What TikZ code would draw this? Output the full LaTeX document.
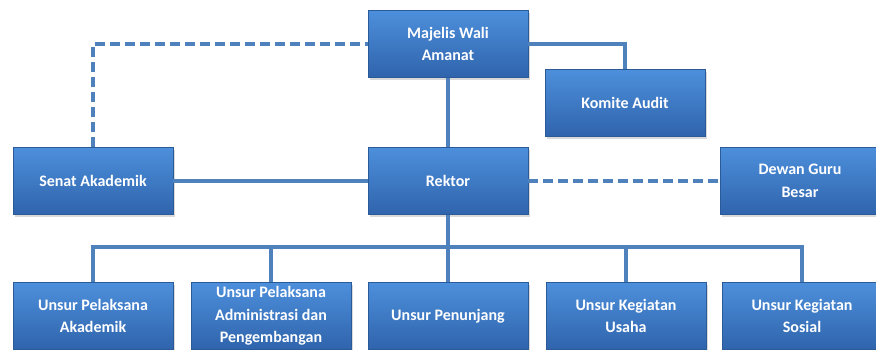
\documentclass[tikz,border=0pt]{standalone}
\usepackage{fontspec}
\setmainfont{Carlito}
\usetikzlibrary{shadows}
\definecolor{boxtop}{HTML}{4D8FDB}
\definecolor{boxbot}{HTML}{2F64AC}
\definecolor{boxline}{HTML}{2A5A98}
\definecolor{linkblue}{HTML}{4F81BD}

\begin{document}
\begin{tikzpicture}[x=1pt,y=-1pt,
  unit/.style={draw=boxline, top color=boxtop, bottom color=boxbot,
    minimum width=160pt, minimum height=67pt, text=white, align=center,
    font=\fontsize{16}{22.5}\selectfont\bfseries,
    drop shadow={opacity=0.3,shadow xshift=2pt,shadow yshift=-2pt}},
  link/.style={linkblue, line width=4pt},
  advice/.style={link, dash pattern=on 10pt off 5pt}]
  \useasboundingbox (0,0) rectangle (876,349);
  \coordinate (bus) at (448,247);
  \path (448,44) coordinate (c-mwa) (625,103) coordinate (c-kom)
        (93,181) coordinate (c-sen) (448,181) coordinate (c-rek)
        (800,181) coordinate (c-dew);

  \node[unit] (mwa) at (c-mwa) {Majelis Wali\\Amanat};
  \node[unit] (komite) at (c-kom) {Komite Audit};
  \node[unit] (senat) at (c-sen) {Senat Akademik};
  \node[unit] (rektor) at (c-rek) {Rektor};
  \node[unit] (dewan) at (c-dew) {Dewan Guru\\Besar};

  \node[unit] (upa) at (93,316) {Unsur Pelaksana\\Akademik};
  \node[unit] (upad) at (271,316) {Unsur Pelaksana\\Administrasi dan\\Pengembangan};
  \node[unit] (upen) at (448,316) {Unsur Penunjang};
  \node[unit] (ukus) at (626,316) {Unsur Kegiatan\\Usaha};
  \node[unit] (ukso) at (802,316) {Unsur Kegiatan\\Sosial};

  \draw[link] (mwa) -| (komite);
  \draw[link] (mwa) -- (rektor);
  \draw[link] (senat) -- (rektor);
  \draw[advice] (senat) |- (mwa);
  \draw[advice] (rektor) -- (dewan);

  \draw[link] (rektor) -- (bus);
  \foreach \n in {upa,upad,upen,ukus,ukso}
    \draw[link] (bus) -| (\n);
\end{tikzpicture}
\end{document}
